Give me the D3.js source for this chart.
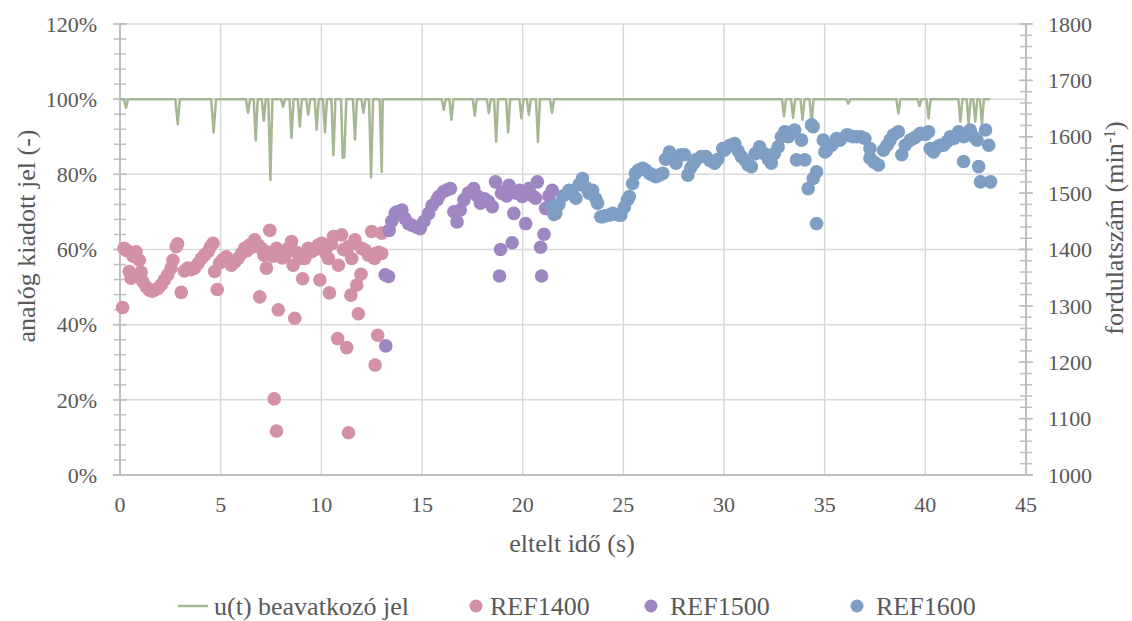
<!DOCTYPE html>
<html>
<head>
<meta charset="utf-8">
<script src="https://cdn.jsdelivr.net/npm/d3@7"></script>
<style>
  body { margin: 0; background: #fff; }
  text { font-family: "Liberation Serif", "Times New Roman", serif; fill: #595959; }
</style>
</head>
<body>
<svg id="chart" width="1132" height="621"></svg>
<script>
// u(t) control signal (%)
var uT = [0, 0.2, 0.3, 0.4, 2.75, 2.87, 2.97, 4.53, 4.65, 4.77, 6.25, 6.36, 6.46, 6.64, 6.74, 6.84,
  7.04, 7.14, 7.24, 7.37, 7.47, 7.57, 8.0, 8.1, 8.2, 8.42, 8.52, 8.62, 8.83, 8.93, 9.03, 9.25, 9.35,
  9.45, 9.67, 9.77, 9.87, 10.08, 10.18, 10.28, 10.5, 10.6, 10.7, 10.98, 11.06, 11.14, 11.24, 11.57,
  11.67, 11.77, 11.99, 12.09, 12.19, 12.37, 12.47, 12.57, 12.9, 13.0, 13.05, 15.98, 16.08, 16.18,
  16.36, 16.46, 16.56, 17.52, 17.62, 17.72, 18.22, 18.32, 18.42, 18.58, 18.68, 18.78, 19.18, 19.28,
  19.38, 19.84, 19.94, 20.04, 20.21, 20.31, 20.41, 20.66, 20.76, 20.86, 21.36, 21.46, 21.56, 32.88,
  32.98, 33.08, 33.33, 33.43, 33.53, 33.8, 33.9, 34.0, 34.25, 34.35, 34.45, 36.07, 36.17, 36.27,
  38.56, 38.66, 38.76, 39.61, 39.71, 39.81, 40.06, 40.16, 40.26, 41.64, 41.74, 41.84, 42.05, 42.15,
  42.25, 42.38, 42.48, 42.58, 42.71, 42.81, 42.91, 43.2];
var uV = [100, 100, 97.7, 100, 100, 93.3, 100, 100, 91.1, 100, 100, 96.4, 100, 100, 89.1, 100,
  100, 94.2, 100, 100, 78.5, 100, 100, 98, 100, 100, 89.7, 100, 100, 92.7, 100, 100, 95.9,
  100, 100, 91.9, 100, 100, 91.2, 100, 100, 85.1, 100, 100, 84.4, 84.6, 100, 100,
  89.3, 100, 100, 96.4, 100, 100, 79.2, 100, 100, 80.7, 100, 100, 97.2, 100,
  100, 94.5, 100, 100, 95.6, 100, 100, 96.3, 100, 100, 88.7, 100, 100, 91.1,
  100, 100, 94.9, 100, 100, 95.8, 100, 100, 88.7, 100, 100, 96.3, 100, 100,
  95.5, 100, 100, 95, 100, 100, 94.5, 100, 100, 93.5, 100, 100, 98.8, 100,
  100, 96.2, 100, 100, 98.2, 100, 100, 94.9, 100, 100, 94, 100, 100, 93.5,
  100, 100, 94, 100, 100, 93.5, 100, 100];

// speed samples [time s, rpm]
var ref1400 = [
  [0.13, 1297], [0.2, 1402], [0.35, 1398], [0.46, 1361], [0.55, 1349], [0.65, 1388], [0.8, 1396],
  [0.96, 1381], [1.05, 1360], [1.13, 1343], [1.3, 1334], [1.46, 1328], [1.6, 1326], [1.7, 1328],
  [1.88, 1331], [2.04, 1337], [2.2, 1346], [2.37, 1355], [2.54, 1367], [2.63, 1381], [2.79, 1405],
  [2.86, 1410], [3.04, 1324], [3.2, 1362], [3.37, 1367], [3.53, 1364], [3.7, 1367], [3.87, 1375],
  [4.04, 1384], [4.2, 1390], [4.37, 1396], [4.5, 1405], [4.62, 1411], [4.7, 1361], [4.83, 1329],
  [4.95, 1376], [5.1, 1382], [5.28, 1387], [5.4, 1378], [5.53, 1372], [5.7, 1378], [5.86, 1384],
  [6.03, 1393], [6.19, 1402], [6.3, 1398], [6.44, 1408], [6.55, 1404], [6.69, 1417], [6.86, 1408],
  [6.94, 1316], [7.02, 1402], [7.15, 1390], [7.27, 1396], [7.27, 1367], [7.44, 1434], [7.6, 1388],
  [7.66, 1135], [7.77, 1078], [7.78, 1402], [7.86, 1293], [7.95, 1395], [8.05, 1385], [8.19, 1390],
  [8.36, 1402], [8.52, 1414], [8.6, 1372], [8.68, 1278], [8.77, 1395], [8.9, 1390], [9.02, 1384],
  [9.07, 1348], [9.18, 1384], [9.35, 1402], [9.52, 1396], [9.68, 1400], [9.85, 1408], [9.93, 1346],
  [10.02, 1411], [10.2, 1395], [10.35, 1384], [10.4, 1323], [10.5, 1410], [10.6, 1423], [10.81, 1242],
  [10.85, 1372], [11.01, 1426], [11.1, 1400], [11.18, 1399], [11.26, 1226], [11.35, 1075], [11.35, 1405],
  [11.47, 1319], [11.51, 1384], [11.67, 1417], [11.76, 1337], [11.84, 1286], [11.97, 1356], [12.0, 1402],
  [12.17, 1399], [12.34, 1390], [12.5, 1432], [12.64, 1384], [12.67, 1393], [12.67, 1195], [12.8, 1248],
  [12.85, 1395], [13.0, 1429], [13.0, 1393]
];
var ref1500 = [
  [13.17, 1355], [13.2, 1229], [13.34, 1352], [13.37, 1434], [13.5, 1450], [13.67, 1464], [13.75, 1467],
  [14.0, 1470], [14.15, 1455], [14.33, 1446], [14.5, 1443], [14.7, 1440], [14.91, 1437], [15.1, 1450],
  [15.33, 1464], [15.5, 1478], [15.74, 1488], [15.83, 1494], [16.08, 1503], [16.25, 1506], [16.41, 1508],
  [16.58, 1467], [16.74, 1449], [16.9, 1470], [17.08, 1488], [17.3, 1500], [17.57, 1508], [17.75, 1495],
  [17.9, 1482], [18.1, 1490], [18.3, 1485], [18.49, 1476], [18.65, 1520], [18.85, 1353], [18.9, 1400],
  [18.95, 1500], [19.07, 1503], [19.2, 1495], [19.32, 1514], [19.48, 1412], [19.56, 1464], [19.7, 1500],
  [19.85, 1505], [19.98, 1494], [20.15, 1446], [20.31, 1508], [20.5, 1495], [20.64, 1491], [20.73, 1520],
  [20.89, 1404], [20.94, 1353], [21.06, 1427], [21.14, 1473], [21.3, 1495], [21.47, 1505]
];
var ref1600 = [
  [21.47, 1476], [21.55, 1462], [21.64, 1464], [21.8, 1480], [22.0, 1495], [22.3, 1505], [22.45, 1498],
  [22.64, 1491], [22.8, 1515], [22.97, 1526], [23.15, 1510], [23.3, 1500], [23.47, 1505], [23.63, 1490],
  [23.72, 1482], [23.88, 1458], [23.97, 1458], [24.1, 1460], [24.3, 1461], [24.47, 1464], [24.65, 1462],
  [24.8, 1461], [24.88, 1461], [25.05, 1475], [25.2, 1488], [25.3, 1494], [25.46, 1517], [25.6, 1535],
  [25.75, 1541], [25.96, 1544], [26.1, 1541], [26.3, 1535], [26.46, 1532], [26.62, 1529], [26.79, 1532],
  [26.96, 1535], [27.1, 1560], [27.29, 1573], [27.45, 1565], [27.62, 1553], [27.85, 1568], [28.04, 1568],
  [28.2, 1532], [28.35, 1545], [28.5, 1553], [28.6, 1559], [28.87, 1565], [29.1, 1565], [29.3, 1558],
  [29.53, 1553], [29.7, 1560], [29.94, 1579], [30.03, 1576], [30.3, 1585], [30.53, 1588], [30.7, 1575],
  [30.86, 1565], [31.03, 1559], [31.2, 1550], [31.36, 1547], [31.55, 1570], [31.77, 1582], [32.0, 1570],
  [32.2, 1560], [32.35, 1553], [32.5, 1570], [32.69, 1582], [32.85, 1600], [33.02, 1609], [33.2, 1600],
  [33.43, 1609], [33.51, 1612], [33.6, 1559], [33.85, 1594], [34.02, 1559], [34.18, 1508], [34.35, 1621],
  [34.43, 1618], [34.43, 1526], [34.6, 1538], [34.6, 1446], [34.93, 1594], [35.01, 1573], [35.1, 1576],
  [35.35, 1585], [35.59, 1597], [35.76, 1594], [36.09, 1603], [36.17, 1603], [36.4, 1600], [36.59, 1600],
  [36.8, 1600], [37.0, 1597], [37.25, 1579], [37.25, 1562], [37.45, 1555], [37.67, 1550], [37.92, 1576],
  [38.1, 1585], [38.25, 1594], [38.41, 1603], [38.66, 1609], [38.83, 1568], [39.0, 1585], [39.25, 1594],
  [39.45, 1598], [39.66, 1603], [39.75, 1606], [40.0, 1604], [40.16, 1609], [40.24, 1579], [40.41, 1573],
  [40.6, 1582], [40.74, 1585], [40.91, 1585], [41.1, 1592], [41.24, 1600], [41.41, 1597], [41.66, 1609],
  [41.9, 1600], [41.9, 1556], [42.05, 1605], [42.23, 1612], [42.4, 1600], [42.57, 1594], [42.65, 1547],
  [42.74, 1520], [42.99, 1612], [43.15, 1585], [43.24, 1520]
];

var xTicks = [0, 5, 10, 15, 20, 25, 30, 35, 40, 45];
var pctTicks = [0, 20, 40, 60, 80, 100, 120];
var rpmTicks = [1000, 1100, 1200, 1300, 1400, 1500, 1600, 1700, 1800];
var seriesNames = ["u(t) beavatkozó jel", "REF1400", "REF1500", "REF1600"];

var colors = {u: "#a6b793", r1400: "#d291a5", r1500: "#9d86c1", r1600: "#7f9ec4"};
var axisCol = "#bfbfbf", gridCol = "#d9d9d9";

const svg = d3.select("#chart");
const x = d3.scaleLinear().domain([0, 45]).range([120, 1026]);
const yPct = d3.scaleLinear().domain([0, 120]).range([475, 24]);
const yRpm = d3.scaleLinear().domain([1000, 1800]).range([475, 24]);

// gridlines
svg.append("g").selectAll("line").data(pctTicks.slice(1)).enter().append("line")
  .attr("x1", x(0)).attr("x2", x(45))
  .attr("y1", d => yPct(d)).attr("y2", d => yPct(d))
  .attr("stroke", gridCol).attr("stroke-width", 1.5);
svg.append("g").selectAll("line").data(xTicks.slice(1, -1)).enter().append("line")
  .attr("x1", d => x(d)).attr("x2", d => x(d))
  .attr("y1", yPct(0)).attr("y2", yPct(120))
  .attr("stroke", gridCol).attr("stroke-width", 1.5);

// axis lines + cross ticks
function crossTicks(g, xpos, vals, scale, half) {
  g.selectAll(null).data(vals).enter().append("line")
    .attr("x1", xpos - half).attr("x2", xpos + half)
    .attr("y1", d => scale(d)).attr("y2", d => scale(d))
    .attr("stroke", axisCol).attr("stroke-width", 1.5);
}
const axG = svg.append("g");
axG.append("line").attr("x1", x(0) - 7).attr("x2", x(45) + 7)
  .attr("y1", yPct(0)).attr("y2", yPct(0)).attr("stroke", axisCol).attr("stroke-width", 2);
axG.append("line").attr("x1", x(0)).attr("x2", x(0))
  .attr("y1", yPct(0)).attr("y2", yPct(120)).attr("stroke", axisCol).attr("stroke-width", 2);
axG.append("line").attr("x1", x(45)).attr("x2", x(45))
  .attr("y1", yPct(0)).attr("y2", yPct(120)).attr("stroke", axisCol).attr("stroke-width", 2);
crossTicks(axG, x(0), d3.range(0, 120.1, 4), yPct, 6);
crossTicks(axG, x(0), pctTicks, yPct, 7);
crossTicks(axG, x(45), d3.range(1000, 1800.1, 20), yRpm, 6);
crossTicks(axG, x(45), rpmTicks, yRpm, 7);

// tick labels
svg.append("g").selectAll("text").data(pctTicks).enter().append("text")
  .attr("x", 97).attr("y", d => yPct(d)).attr("dy", "0.35em")
  .attr("text-anchor", "end").style("font-size", "22px")
  .text(d => d + "%");
svg.append("g").selectAll("text").data(rpmTicks).enter().append("text")
  .attr("x", 1048).attr("y", d => yRpm(d)).attr("dy", "0.35em")
  .attr("text-anchor", "start").style("font-size", "22px")
  .text(d => d);
svg.append("g").selectAll("text").data(xTicks).enter().append("text")
  .attr("x", d => x(d)).attr("y", 504).attr("dy", "0.35em")
  .attr("text-anchor", "middle").style("font-size", "22px")
  .text(d => d);

// axis titles
svg.append("text").attr("transform", "translate(26,236) rotate(-90)")
  .attr("text-anchor", "middle").attr("dy", "0.35em").style("font-size", "26px")
  .text("analóg kiadott jel (-)");
const rt = svg.append("text").attr("transform", "translate(1114,228) rotate(-90)")
  .attr("text-anchor", "middle").attr("dy", "0.35em").style("font-size", "26px");
rt.append("tspan").text("fordulatszám (min");
rt.append("tspan").attr("baseline-shift", "super").style("font-size", "16px").text("-1");
rt.append("tspan").text(")");
svg.append("text").attr("x", 572).attr("y", 543).attr("dy", "0.35em")
  .attr("text-anchor", "middle").style("font-size", "26px")
  .text("eltelt idő (s)");

// u(t) line
const uData = uT.map((t, i) => [t, uV[i]]);
svg.append("path").datum(uData)
  .attr("fill", "none").attr("stroke", colors.u).attr("stroke-width", 2.5)
  .attr("stroke-linejoin", "round")
  .attr("d", d3.line().x(d => x(d[0])).y(d => yPct(d[1])));

// scatter series
[[ref1400, colors.r1400], [ref1500, colors.r1500], [ref1600, colors.r1600]].forEach(function (s) {
  svg.append("g").selectAll("circle").data(s[0]).enter().append("circle")
    .attr("cx", d => x(d[0])).attr("cy", d => yRpm(d[1]))
    .attr("r", 6.8).attr("fill", s[1]);
});

// legend
const lg = svg.append("g").attr("transform", "translate(0,606)");
lg.append("line").attr("x1", 178).attr("x2", 208).attr("y1", 0).attr("y2", 0)
  .attr("stroke", colors.u).attr("stroke-width", 2.5);
lg.append("text").attr("x", 214).attr("dy", "0.35em").style("font-size", "26px").text(seriesNames[0]);
[[476, 490, colors.r1400, seriesNames[1]], [651, 670, colors.r1500, seriesNames[2]],
 [857, 876, colors.r1600, seriesNames[3]]].forEach(function (e) {
  lg.append("circle").attr("cx", e[0]).attr("cy", 0).attr("r", 6.5).attr("fill", e[2]);
  lg.append("text").attr("x", e[1]).attr("dy", "0.35em").style("font-size", "26px").text(e[3]);
});
</script>
</body>
</html>
